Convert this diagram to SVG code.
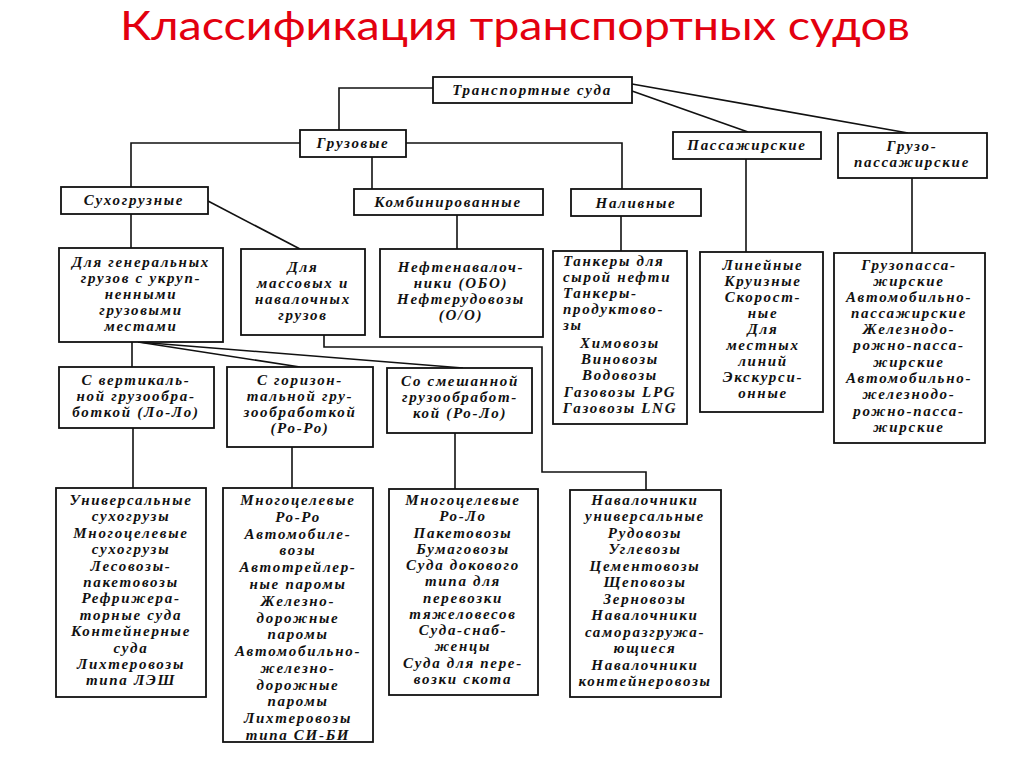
<svg xmlns="http://www.w3.org/2000/svg" width="1024" height="767" viewBox="0 0 1024 767">
<style>
.b{fill:#fff;stroke:#111;stroke-width:1.8}
.t{font-family:"Liberation Serif","DejaVu Serif",serif;font-weight:bold;font-style:italic;font-size:15px;letter-spacing:1.7px;fill:#111;text-anchor:middle}
.l{text-anchor:start}
.c{fill:none;stroke:#111;stroke-width:1.6}
</style>
<rect width="1024" height="767" fill="#fff"/>
<text x="515" y="40" font-family="Lato,'Open Sans',sans-serif" font-size="40" fill="#e3000f" text-anchor="middle" textLength="790" lengthAdjust="spacingAndGlyphs">Классификация транспортных судов</text>

<g id="connectors">
<polyline class="c" points="433,88 339,88 339,130"/>
<line class="c" x1="632" y1="91" x2="748" y2="132"/>
<line class="c" x1="632" y1="84" x2="908" y2="133"/>
<polyline class="c" points="300,143 131,143 131,187"/>
<line class="c" x1="372" y1="157" x2="372" y2="189"/>
<polyline class="c" points="406,143 622,143 622,189"/>
<line class="c" x1="131" y1="214" x2="131" y2="248"/>
<line class="c" x1="208" y1="201" x2="300" y2="249"/>
<line class="c" x1="457" y1="215" x2="457" y2="249"/>
<line class="c" x1="621" y1="216" x2="621" y2="251"/>
<line class="c" x1="746" y1="159" x2="746" y2="252"/>
<line class="c" x1="912" y1="178" x2="912" y2="253"/>
<line class="c" x1="132" y1="342" x2="132" y2="367"/>
<line class="c" x1="138" y1="342" x2="300" y2="367"/>
<line class="c" x1="138" y1="342" x2="463" y2="368"/>
<polyline class="c" points="324,335 324,347 542,347 542,472 646,472 646,490"/>
<line class="c" x1="133" y1="428" x2="133" y2="488"/>
<line class="c" x1="292" y1="447" x2="292" y2="488"/>
<line class="c" x1="455" y1="433" x2="455" y2="489"/>
</g>

<g id="n-transport"><rect class="b" x="433" y="77" width="199" height="26"/><text class="t" x="532" y="95">Транспортные суда</text></g>
<g id="n-gruz"><rect class="b" x="300" y="130" width="106" height="27"/><text class="t" x="353" y="148">Грузовые</text></g>
<g id="n-pass"><rect class="b" x="673" y="132" width="148" height="27"/><text class="t" x="747" y="150">Пассажирские</text></g>
<g id="n-gruzopass"><rect class="b" x="838" y="133" width="149" height="45"/><text class="t" x="912" y="151">Грузо-</text><text class="t" x="912" y="167">пассажирские</text></g>
<g id="n-suho"><rect class="b" x="61" y="187" width="147" height="27"/><text class="t" x="134" y="205">Сухогрузные</text></g>
<g id="n-komb"><rect class="b" x="354" y="189" width="189" height="26"/><text class="t" x="448" y="207">Комбинированные</text></g>
<g id="n-naliv"><rect class="b" x="571" y="189" width="130" height="27"/><text class="t" x="636" y="208">Наливные</text></g>

<g id="n-general"><rect class="b" x="59" y="248" width="164" height="94"/>
<text class="t" x="141" y="267">Для генеральных</text><text class="t" x="141" y="283">грузов с укруп-</text><text class="t" x="141" y="299">ненными</text><text class="t" x="141" y="315">грузовыми</text><text class="t" x="141" y="331">местами</text></g>
<g id="n-massov"><rect class="b" x="241" y="249" width="124" height="86"/>
<text class="t" x="303" y="272">Для</text><text class="t" x="303" y="288">массовых и</text><text class="t" x="303" y="304">навалочных</text><text class="t" x="303" y="320">грузов</text></g>
<g id="n-neft"><rect class="b" x="380" y="249" width="163" height="88"/>
<text class="t" x="461" y="272">Нефтенавалоч-</text><text class="t" x="461" y="288">ники (ОБО)</text><text class="t" x="461" y="304">Нефтерудовозы</text><text class="t" x="461" y="320">(О/О)</text></g>
<g id="n-tank"><rect class="b" x="553" y="251" width="134" height="173"/>
<text class="t l" x="563" y="266">Танкеры для</text><text class="t l" x="563" y="282">сырой нефти</text><text class="t l" x="563" y="298">Танкеры-</text><text class="t l" x="563" y="314">продуктово-</text><text class="t l" x="563" y="330">зы</text>
<text class="t" x="620" y="348">Химовозы</text><text class="t" x="620" y="364">Виновозы</text><text class="t" x="620" y="380">Водовозы</text><text class="t" x="620" y="397">Газовозы LPG</text><text class="t" x="620" y="413">Газовозы LNG</text></g>
<g id="n-lin"><rect class="b" x="700" y="252" width="123" height="160"/>
<text class="t" x="763" y="270">Линейные</text><text class="t" x="763" y="286">Круизные</text><text class="t" x="763" y="302">Скорост-</text><text class="t" x="763" y="318">ные</text><text class="t" x="763" y="334">Для</text><text class="t" x="763" y="350">местных</text><text class="t" x="763" y="366">линий</text><text class="t" x="763" y="382">Экскурси-</text><text class="t" x="763" y="398">онные</text></g>
<g id="n-gp"><rect class="b" x="834" y="253" width="151" height="190"/>
<text class="t" x="909" y="270">Грузопасса-</text><text class="t" x="909" y="286">жирские</text><text class="t" x="909" y="302">Автомобильно-</text><text class="t" x="909" y="318">пассажирские</text><text class="t" x="909" y="334">Железнодо-</text><text class="t" x="909" y="350">рожно-пасса-</text><text class="t" x="909" y="367">жирские</text><text class="t" x="909" y="383">Автомобильно-</text><text class="t" x="909" y="399">железнодо-</text><text class="t" x="909" y="416">рожно-пасса-</text><text class="t" x="909" y="432">жирские</text></g>

<g id="n-vert"><rect class="b" x="59" y="367" width="155" height="61"/>
<text class="t" x="136" y="385">С вертикаль-</text><text class="t" x="136" y="401">ной грузообра-</text><text class="t" x="136" y="417">боткой (Ло-Ло)</text></g>
<g id="n-gor"><rect class="b" x="227" y="367" width="146" height="80"/>
<text class="t" x="300" y="385">С горизон-</text><text class="t" x="300" y="401">тальной гру-</text><text class="t" x="300" y="417">зообработкой</text><text class="t" x="300" y="433">(Ро-Ро)</text></g>
<g id="n-smesh"><rect class="b" x="387" y="368" width="145" height="65"/>
<text class="t" x="460" y="386">Со смешанной</text><text class="t" x="460" y="402">грузообработ-</text><text class="t" x="460" y="418">кой (Ро-Ло)</text></g>

<g id="n-univ"><rect class="b" x="56" y="488" width="150" height="209"/>
<text class="t" x="131" y="505">Универсальные</text><text class="t" x="131" y="521">сухогрузы</text><text class="t" x="131" y="538">Многоцелевые</text><text class="t" x="131" y="554">сухогрузы</text><text class="t" x="131" y="571">Лесовозы-</text><text class="t" x="131" y="587">пакетовозы</text><text class="t" x="131" y="603">Рефрижера-</text><text class="t" x="131" y="620">торные суда</text><text class="t" x="131" y="636">Контейнерные</text><text class="t" x="131" y="653">суда</text><text class="t" x="131" y="669">Лихтеровозы</text><text class="t" x="131" y="685">типа ЛЭШ</text></g>
<g id="n-roro"><rect class="b" x="223" y="488" width="150" height="254"/>
<text class="t" x="298" y="505">Многоцелевые</text><text class="t" x="298" y="522">Ро-Ро</text><text class="t" x="298" y="539">Автомобиле-</text><text class="t" x="298" y="555">возы</text><text class="t" x="298" y="572">Автотрейлер-</text><text class="t" x="298" y="589">ные паромы</text><text class="t" x="298" y="606">Железно-</text><text class="t" x="298" y="623">дорожные</text><text class="t" x="298" y="639">паромы</text><text class="t" x="298" y="656">Автомобильно-</text><text class="t" x="298" y="673">железно-</text><text class="t" x="298" y="690">дорожные</text><text class="t" x="298" y="706">паромы</text><text class="t" x="298" y="723">Лихтеровозы</text><text class="t" x="298" y="740">типа СИ-БИ</text></g>
<g id="n-rolo"><rect class="b" x="389" y="489" width="149" height="206"/>
<text class="t" x="463" y="505">Многоцелевые</text><text class="t" x="463" y="521">Ро-Ло</text><text class="t" x="463" y="538">Пакетовозы</text><text class="t" x="463" y="554">Бумаговозы</text><text class="t" x="463" y="570">Суда докового</text><text class="t" x="463" y="586">типа для</text><text class="t" x="463" y="603">перевозки</text><text class="t" x="463" y="619">тяжеловесов</text><text class="t" x="463" y="635">Суда-снаб-</text><text class="t" x="463" y="651">женцы</text><text class="t" x="463" y="668">Суда для пере-</text><text class="t" x="463" y="684">возки скота</text></g>
<g id="n-naval"><rect class="b" x="570" y="490" width="151" height="207"/>
<text class="t" x="645" y="505">Навалочники</text><text class="t" x="645" y="521">универсальные</text><text class="t" x="645" y="538">Рудовозы</text><text class="t" x="645" y="554">Углевозы</text><text class="t" x="645" y="571">Цементовозы</text><text class="t" x="645" y="587">Щеповозы</text><text class="t" x="645" y="604">Зерновозы</text><text class="t" x="645" y="620">Навалочники</text><text class="t" x="645" y="637">саморазгружа-</text><text class="t" x="645" y="653">ющиеся</text><text class="t" x="645" y="670">Навалочники</text><text class="t" x="645" y="686">контейнеровозы</text></g>
</svg>
